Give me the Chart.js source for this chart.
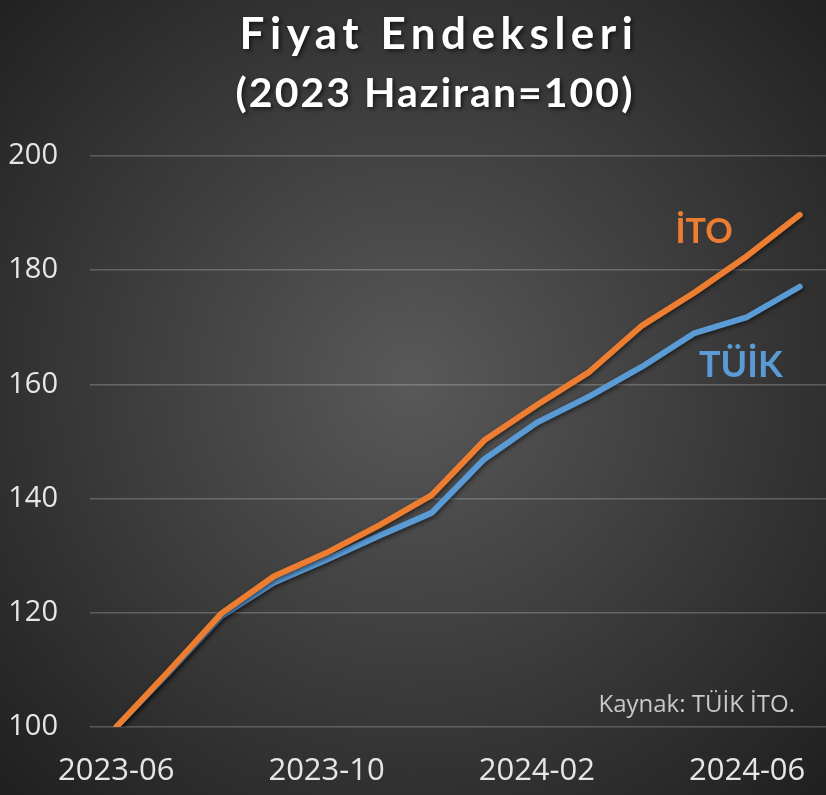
<!DOCTYPE html>
<html>
<head>
<meta charset="utf-8">
<script src="https://cdn.jsdelivr.net/npm/chart.js@4.4.1/dist/chart.umd.min.js"></script>
<style>
  html, body { margin: 0; padding: 0; background: #2a2a2a; }
  #wrap { width: 826px; height: 795px; }
</style>
</head>
<body>
<div id="wrap"><canvas id="priceChart"></canvas></div>
<script>
// monthly index values, 2023 Haziran = 100
const months = ['2023-06', '2023-07', '2023-08', '2023-09', '2023-10', '2023-11', '2023-12',
                '2024-01', '2024-02', '2024-03', '2024-04', '2024-05', '2024-06', '2024-07'];
const itoValues = [100, 109.8, 119.9, 126.4, 130.5, 135.3, 140.6, 150.2, 156.4, 162.2, 170.3, 176.1, 182.5, 189.7];
const tuikValues = [100, 109.5, 119.4, 125.3, 129.3, 133.5, 137.5, 146.9, 153.3, 157.9, 163.1, 169.0, 171.8, 177.1];
const yTicks = [100, 120, 140, 160, 180, 200];

const orange = '#ED7D31';
const blue = '#5B9BD5';

// dark radial background like the original
const background = {
    id: 'background',
    beforeDraw(chart) {
        const ctx = chart.ctx;
        const w = chart.width, h = chart.height;
        const g = ctx.createRadialGradient(w * 0.5, h * 0.48, 10, w * 0.5, h * 0.48, w * 0.72);
        g.addColorStop(0, '#585858');
        g.addColorStop(1, '#1e1e1e');
        ctx.save();
        ctx.fillStyle = g;
        ctx.fillRect(0, 0, w, h);
        ctx.restore();
    }
};

// soft shadow under the lines
const lineShadow = {
    id: 'lineShadow',
    beforeDatasetDraw(chart) {
        const ctx = chart.ctx;
        ctx.save();
        ctx.shadowColor = 'rgba(0,0,0,0.55)';
        ctx.shadowBlur = 4;
        ctx.shadowOffsetX = 1;
        ctx.shadowOffsetY = 2;
    },
    afterDatasetDraw(chart) {
        chart.ctx.restore();
    }
};

// spaced-out title with a shadow (the title plugin has no letter spacing)
const heading = {
    id: 'heading',
    afterDraw(chart) {
        const ctx = chart.ctx;
        ctx.save();
        ctx.fillStyle = '#ffffff';
        ctx.textAlign = 'center';
        ctx.textBaseline = 'alphabetic';
        ctx.shadowColor = 'rgba(0,0,0,0.6)';
        ctx.shadowBlur = 4;
        ctx.shadowOffsetX = 2;
        ctx.shadowOffsetY = 2;
        ctx.font = 'bold 44px Lato';
        ctx.letterSpacing = '5.5px';
        ctx.fillText('Fiyat Endeksleri', 439, 49);
        ctx.font = 'bold 41px Lato';
        ctx.letterSpacing = '2px';
        ctx.fillText('(2023 Haziran=100)', 435, 107);
        ctx.restore();
    }
};

// series names next to the lines and the source note
const notes = {
    id: 'notes',
    afterDatasetsDraw(chart) {
        const ctx = chart.ctx;
        const x = chart.scales.x, y = chart.scales.y;
        ctx.save();
        ctx.textAlign = 'center';
        ctx.textBaseline = 'alphabetic';
        ctx.font = 'bold 34px Lato';
        ctx.fillStyle = orange;
        ctx.fillText('İTO', x.getPixelForValue(11.18), y.getPixelForValue(184.7));
        ctx.font = 'bold 36px Lato';
        ctx.fillStyle = blue;
        ctx.fillText('TÜİK', x.getPixelForValue(11.88), y.getPixelForValue(161.3));
        ctx.font = '24px "Open Sans"';
        ctx.fillStyle = '#c9c9c9';
        ctx.textAlign = 'right';
        ctx.fillText('Kaynak: TÜİK İTO.', chart.chartArea.right - 31, y.getPixelForValue(102.6));
        ctx.restore();
    }
};

new Chart(document.getElementById('priceChart').getContext('2d'), {
    type: 'line',
    data: {
        labels: months,
        datasets: [{
            label: 'İTO',
            data: itoValues,
            borderColor: orange,
            borderWidth: 6,
            borderCapStyle: 'round',
            borderJoinStyle: 'round',
            pointRadius: 0,
            tension: 0
        }, {
            label: 'TÜİK',
            data: tuikValues,
            borderColor: blue,
            borderWidth: 6,
            borderCapStyle: 'round',
            borderJoinStyle: 'round',
            pointRadius: 0,
            tension: 0
        }]
    },
    options: {
        responsive: true,
        maintainAspectRatio: false,
        animation: false,
        layout: { padding: { left: 0, right: 0, top: 156, bottom: 0 } },
        plugins: {
            legend: { display: false },
            tooltip: { enabled: false }
        },
        scales: {
            x: {
                offset: true,
                grid: { display: false },
                border: { display: false },
                afterFit: (axis) => { axis.height = 68; },
                ticks: {
                    color: '#e6e6e6',
                    font: { family: 'Open Sans', size: 31 },
                    padding: 18,
                    autoSkip: false,
                    maxRotation: 0,
                    callback: (v, i) => (i % 4 === 0 ? months[i] : '')
                }
            },
            y: {
                min: yTicks[0],
                max: yTicks[yTicks.length - 1],
                grid: { color: 'rgba(255,255,255,0.22)', lineWidth: 1.5, drawTicks: false },
                border: { display: false },
                afterFit: (axis) => { axis.width = 90; },
                afterBuildTicks: (axis) => { axis.ticks = yTicks.map(v => ({ value: v })); },
                ticks: {
                    color: '#e6e6e6',
                    font: { family: 'Open Sans', size: 29 },
                    padding: 32
                }
            }
        }
    },
    plugins: [background, lineShadow, notes, heading]
});
</script>
</body>
</html>
